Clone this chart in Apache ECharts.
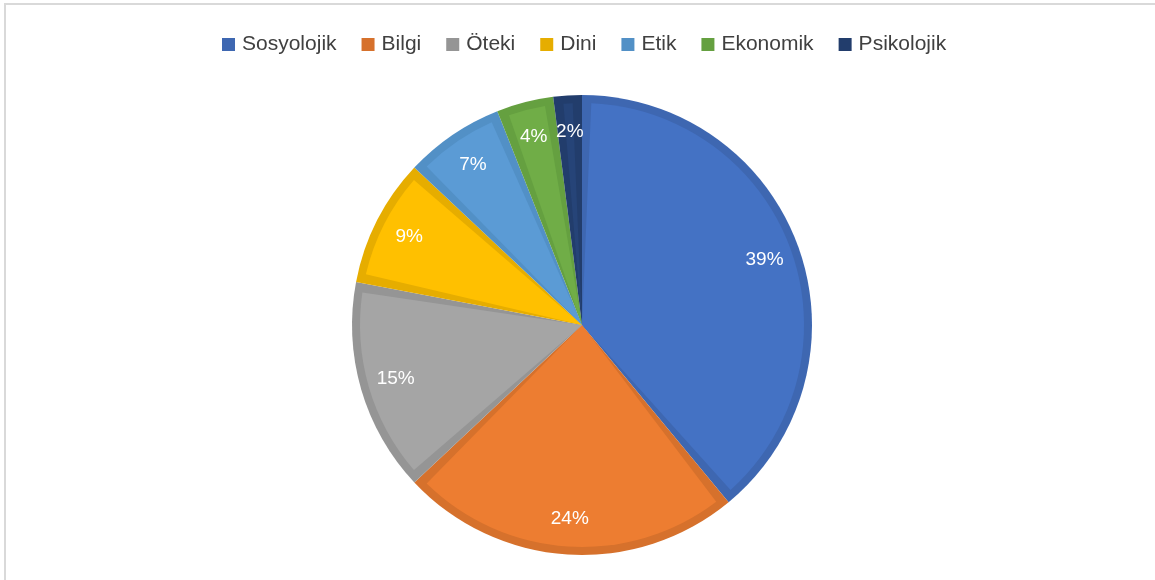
<!DOCTYPE html>
<html>
<head>
<meta charset="utf-8">
<style>
html,body{margin:0;padding:0;background:#fff;}
#chart{width:1155px;height:580px;}
</style>
<script src="https://cdn.jsdelivr.net/npm/echarts@6/dist/echarts.min.js"></script>
</head>
<body>
<div id="chart"></div>
<script>
const categories = ['Sosyolojik', 'Bilgi', 'Öteki', 'Dini', 'Etik', 'Ekonomik', 'Psikolojik'];
const values = [39, 24, 15, 9, 7, 4, 2];
const colors = ['#4472C4', '#ED7D31', '#A5A5A5', '#FFC000', '#5B9BD5', '#70AD47', '#264478'];
const borderColors = ['#3E67B1', '#D6712C', '#959595', '#E6AD00', '#5290C6', '#65A040', '#223D6C'];

const chart = echarts.init(document.getElementById('chart'), null, {renderer: 'canvas'});
const borderData = categories.map((c, i) => ({
  name: c, value: values[i], itemStyle: {color: borderColors[i]}
}));
const fillData = categories.map((c, i) => ({
  name: c, value: values[i], itemStyle: {color: colors[i]}
}));
const labelData = categories.map((c, i) => ({name: c, value: values[i]}));

const common = {
  type: 'pie',
  center: [582, 325],
  startAngle: 90,
  clockwise: true,
  labelLine: {show: false},
  emphasis: {disabled: true},
  silent: true,
  legendHoverLink: false
};

chart.setOption({
  animation: false,
  backgroundColor: '#fff',
  color: colors,
  graphic: [{
    type: 'rect',
    shape: {x: 5, y: 4, width: 1200, height: 640},
    style: {fill: 'none', stroke: '#D9D9D9', lineWidth: 2},
    silent: true,
    z: -10
  }],
  legend: {
    top: 29,
    left: 217,
    data: categories,
    icon: 'rect',
    itemWidth: 13,
    itemHeight: 13,
    itemGap: 25,
    textStyle: {fontFamily: 'Liberation Sans, Arial, sans-serif', fontSize: 21, color: '#404040', padding: [0, 0, 0, 2]}
  },
  series: [
    Object.assign({}, common, {
      radius: [0, 230],
      label: {show: false},
      itemStyle: {borderWidth: 0},
      data: borderData
    }),
    Object.assign({}, common, {
      radius: [0, 222],
      padAngle: 4.8,
      label: {show: false},
      itemStyle: {borderWidth: 0},
      data: fillData
    }),
    Object.assign({}, common, {
      radius: [150, 232],
      itemStyle: {color: 'rgba(0,0,0,0)', borderWidth: 0},
      label: {
        show: true,
        position: 'inside',
        formatter: p => Math.round(p.percent) + '%',
        color: '#fff',
        fontFamily: 'Liberation Sans, Arial, sans-serif',
        fontSize: 19,
        padding: [6, 0, 0, 0]
      },
      data: labelData
    })
  ]
});
</script>
</body>
</html>
